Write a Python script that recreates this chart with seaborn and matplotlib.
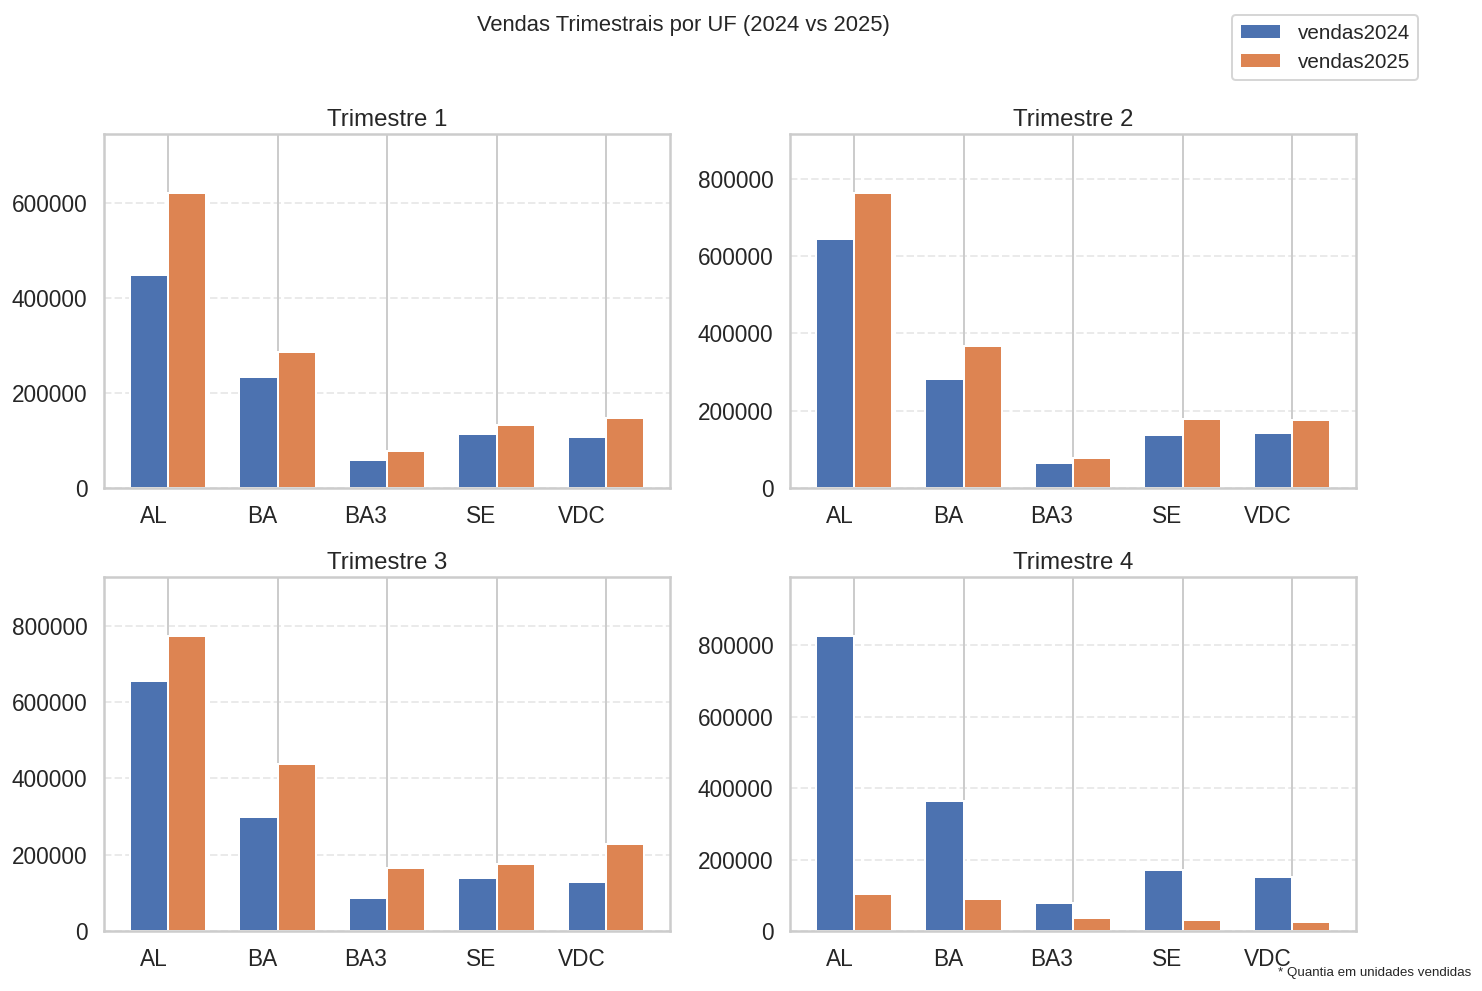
import numpy as np
import pandas as pd
import matplotlib
matplotlib.use("Agg")
import matplotlib.pyplot as plt
from matplotlib.ticker import MaxNLocator
import seaborn as sns

# valores (unidades vendidas por trimestre)
ufs = ["AL", "BA", "BA3", "SE", "VDC"]
trimestres = ["Trimestre 1", "Trimestre 2", "Trimestre 3", "Trimestre 4"]

vendas2024_t1 = [448500, 233700, 59800, 112600, 106900]
vendas2025_t1 = [620000, 286500, 78800, 131600, 147000]
vendas2024_t2 = [643800, 282000, 65900, 136200, 141400]
vendas2025_t2 = [763000, 367800, 78900, 177800, 175200]
vendas2024_t3 = [655800, 297600, 86300, 139100, 128600]
vendas2025_t3 = [773000, 437500, 165500, 176100, 228900]
vendas2024_t4 = [826000, 362900, 78100, 171200, 151400]
vendas2025_t4 = [103500, 89400, 35800, 30200, 24500]

v2024 = [vendas2024_t1, vendas2024_t2, vendas2024_t3, vendas2024_t4]
v2025 = [vendas2025_t1, vendas2025_t2, vendas2025_t3, vendas2025_t4]

sns.set_theme(style="whitegrid", context="talk")
plt.rcParams['font.family'] = ['Liberation Sans', 'DejaVu Sans']

fig, axes = plt.subplots(2, 2, figsize=(1482/96, 991/96), dpi=96)
fig.subplots_adjust(left=0.0702, right=0.915, top=0.8648, bottom=0.0605,
                    wspace=0.212, hspace=0.251)

for k, ax in enumerate(axes.flat):
    df = pd.DataFrame({"UF": ufs, "vendas2024": v2024[k], "vendas2025": v2025[k]})
    df = df.melt(id_vars="UF", var_name="ano", value_name="vendas")
    sns.barplot(data=df, x="UF", y="vendas", hue="ano", width=0.7,
                errorbar=None, ax=ax, legend=(k == 0), saturation=1,
                palette=["#4c72b0", "#dd8452"])
    ax.set_title(trimestres[k], fontsize=18)
    ax.set_xlabel("")
    ax.set_ylabel("")
    ax.set_xlim(-0.585, len(ufs) - 1 + 0.585)
    ax.set_ylim(0, max(max(v2024[k]), max(v2025[k])) * 1.2)
    ax.yaxis.set_major_locator(MaxNLocator(nbins=7, steps=[1, 2, 2.5, 5, 10]))
    ax.set_xticks(range(len(ufs)))
    ax.set_xticklabels(ufs, ha="right")
    ax.tick_params(labelsize=17)
    ax.xaxis.grid(True)
    ax.yaxis.grid(True, linestyle="--", alpha=0.4)
    ax.set_axisbelow(True)

handles, labels = axes[0, 0].get_legend_handles_labels()
axes[0, 0].get_legend().remove()
fig.legend(handles, labels, loc="upper right", bbox_to_anchor=(0.964, 0.995),
           fontsize=15.5)

fig.suptitle("Vendas Trimestrais por UF (2024 vs 2025)", x=0.461, y=0.985,
             fontsize=16.5)
fig.text(0.993, 0.018, "* Quantia em unidades vendidas", ha="right",
         va="center", fontsize=10)

fig.savefig("out.png", dpi=96)
